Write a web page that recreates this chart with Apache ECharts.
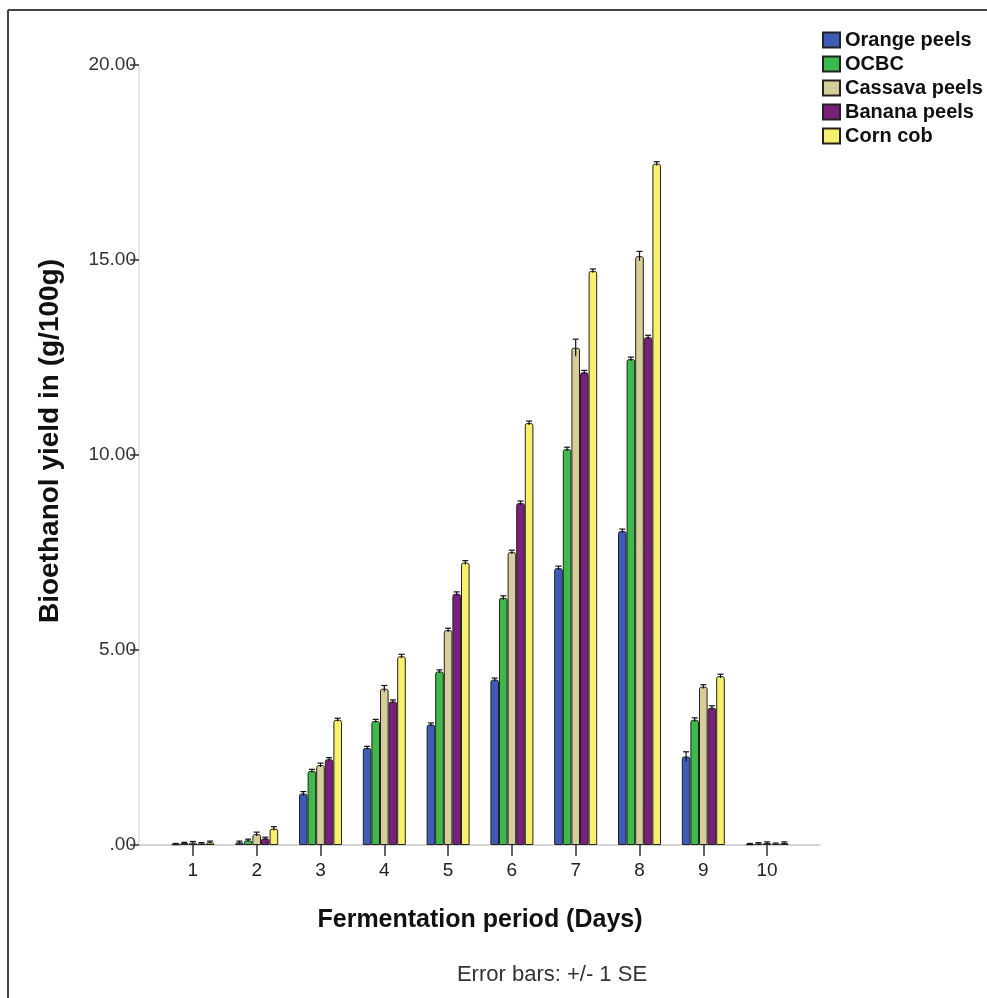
<!DOCTYPE html>
<html>
<head>
<meta charset="utf-8">
<script src="https://cdn.jsdelivr.net/npm/echarts@6/dist/echarts.min.js"></script>
<style>
  html, body { margin: 0; padding: 0; background: #fff; }
  #chart { width: 987px; height: 998px; }
</style>
</head>
<body>
<div id="chart"></div>
<script>
// 发酵天数
const days = ['1', '2', '3', '4', '5', '6', '7', '8', '9', '10']
const yTickLabels = ['.00', '5.00', '10.00', '15.00', '20.00']

const seriesNames = ['Orange peels', 'OCBC', 'Cassava peels', 'Banana peels', 'Corn cob']
const seriesColors = ['#3d5cb8', '#3cba4a', '#d7cd98', '#7a1f7c', '#f7f06c']

// 各原料的乙醇产量 (g/100g)
const orangePeels = [0.02, 0.07, 1.32, 2.49, 3.09, 4.24, 7.10, 8.05, 2.27, 0.02]
const ocbc = [0.05, 0.12, 1.90, 3.18, 4.45, 6.34, 10.15, 12.46, 3.21, 0.04]
const cassavaPeels = [0.06, 0.28, 2.05, 4.01, 5.51, 7.51, 12.75, 15.10, 4.06, 0.05]
const bananaPeels = [0.04, 0.17, 2.20, 3.68, 6.44, 8.77, 12.12, 13.02, 3.52, 0.03]
const cornCob = [0.07, 0.42, 3.21, 4.84, 7.24, 10.82, 14.72, 17.47, 4.33, 0.05]

// 误差 (+/- 1 SE)
const orangeErr = [0.02, 0.03, 0.05, 0.04, 0.04, 0.04, 0.05, 0.05, 0.12, 0.02]
const ocbcErr = [0.02, 0.03, 0.04, 0.04, 0.04, 0.05, 0.05, 0.05, 0.05, 0.02]
const cassavaErr = [0.03, 0.05, 0.05, 0.08, 0.05, 0.05, 0.22, 0.12, 0.05, 0.03]
const bananaErr = [0.02, 0.03, 0.04, 0.04, 0.05, 0.05, 0.05, 0.05, 0.05, 0.02]
const cornErr = [0.03, 0.05, 0.04, 0.05, 0.05, 0.05, 0.05, 0.05, 0.05, 0.03]

const allValues = [orangePeels, ocbc, cassavaPeels, bananaPeels, cornCob]
const allErrors = [orangeErr, ocbcErr, cassavaErr, bananaErr, cornErr]

const FONT = "'Liberation Sans', Arial, sans-serif"
const BAR_W = 8.6

const chart = echarts.init(document.getElementById('chart'))

const barSeries = allValues.map((vals, k) => ({
  name: seriesNames[k],
  type: 'bar',
  xAxisIndex: 0,
  yAxisIndex: 0,
  barWidth: BAR_W,
  barGap: '0%',
  data: vals,
  itemStyle: {
    color: seriesColors[k],
    borderColor: '#222',
    borderWidth: 1,
    borderRadius: [2, 2, 0, 0]
  },
  emphasis: { disabled: true }
}))

// 误差线
const errorSeries = allValues.map((vals, k) => ({
  type: 'custom',
  xAxisIndex: 0,
  yAxisIndex: 0,
  z: 5,
  silent: true,
  data: vals.map((v, i) => [i, v, allErrors[k][i]]),
  renderItem: function (params, api) {
    const c = api.value(0)
    const v = api.value(1)
    const e = api.value(2)
    const top = api.coord([c, v + e])
    const bot = api.coord([c, Math.max(0, v - e)])
    const x = top[0] + (k - 2) * BAR_W
    const style = { stroke: '#111', lineWidth: 1.2 }
    return {
      type: 'group',
      children: [
        { type: 'line', shape: { x1: x, y1: top[1], x2: x, y2: bot[1] }, style: style },
        { type: 'line', shape: { x1: x - 3, y1: top[1], x2: x + 3, y2: top[1] }, style: style }
      ]
    }
  }
}))

const option = {
  backgroundColor: '#fff',
  animation: false,
  textStyle: { fontFamily: FONT },
  grid: [
    { left: 161, right: 188, top: 65, bottom: 153 },
    { left: 139, right: 167, top: 65, bottom: 153 }
  ],
  legend: {
    data: seriesNames,
    orient: 'vertical',
    left: 822,
    top: 30,
    padding: 0,
    icon: 'rect',
    itemWidth: 17,
    itemHeight: 15,
    itemGap: 4,
    selectedMode: false,
    textStyle: { fontFamily: FONT, fontSize: 20, fontWeight: 'bold', color: '#111' }
  },
  xAxis: [
    {
      type: 'category',
      gridIndex: 0,
      data: days,
      axisLine: { show: false },
      axisTick: { show: true, alignWithLabel: true, length: 11, lineStyle: { color: '#333', width: 1.5 } },
      axisLabel: { fontFamily: FONT, fontSize: 19, color: '#222', margin: 16 },
      name: 'Fermentation period (Days)',
      nameLocation: 'middle',
      nameGap: 63,
      nameTextStyle: { fontFamily: FONT, fontSize: 25, fontWeight: 'bold', color: '#111' }
    },
    {
      type: 'value',
      gridIndex: 1,
      min: 0,
      max: 1,
      axisLine: { show: true, lineStyle: { color: '#c8c8c8', width: 1.5 } },
      axisTick: { show: false },
      axisLabel: { show: false },
      splitLine: { show: false }
    }
  ],
  yAxis: [
    { type: 'value', gridIndex: 0, min: 0, max: 20, show: false },
    {
      type: 'value',
      gridIndex: 1,
      min: 0,
      max: 20,
      interval: 5,
      axisLine: { show: true, lineStyle: { color: '#dcdcdc', width: 1.5 } },
      axisTick: { show: true, length: 9, lineStyle: { color: '#333', width: 1.5 } },
      axisLabel: {
        fontFamily: FONT,
        fontSize: 19,
        color: '#333',
        margin: 3,
        formatter: (v, i) => yTickLabels[i]
      },
      splitLine: { show: false }
    }
  ],
  graphic: [
    // 外框
    { type: 'line', shape: { x1: 8, y1: 10, x2: 8, y2: 1000 }, style: { stroke: '#444', lineWidth: 2 } },
    { type: 'line', shape: { x1: 8, y1: 10, x2: 990, y2: 10 }, style: { stroke: '#444', lineWidth: 2 } },
    {
      type: 'text',
      x: 50,
      y: 441,
      rotation: Math.PI / 2,
      style: {
        text: 'Bioethanol yield in (g/100g)',
        fontFamily: FONT,
        fontSize: 28,
        fontWeight: 'bold',
        fill: '#111',
        textAlign: 'center',
        textVerticalAlign: 'middle'
      }
    },
    {
      type: 'text',
      x: 552,
      y: 975,
      style: {
        text: 'Error bars: +/- 1 SE',
        fontFamily: FONT,
        fontSize: 22,
        fill: '#333',
        textAlign: 'center',
        textVerticalAlign: 'middle'
      }
    }
  ],
  series: barSeries.concat(errorSeries)
}

chart.setOption(option)
</script>
</body>
</html>
